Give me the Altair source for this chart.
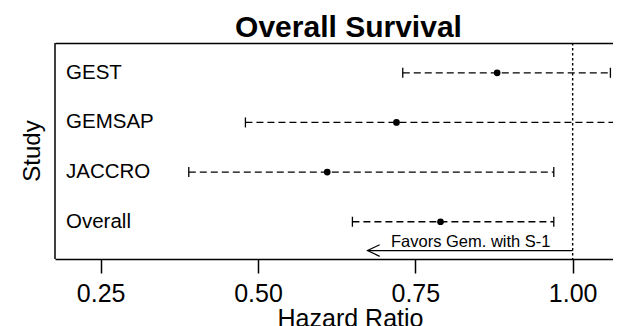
import altair as alt
import pandas as pd

# ---- data ----
studies = ["GEST", "GEMSAP", "JACCRO", "Overall"]
hr = [0.88, 0.72, 0.61, 0.79]
lower = [0.73, 0.48, 0.39, 0.65]
upper = [1.06, 1.08, 0.97, 0.97]
row = [4, 3, 2, 1]

x_ticks = [0.25, 0.50, 0.75, 1.00]
x_domain = [0.1774, 1.0641]
y_domain = [0.25, 4.6]

ref_value = [1.0]
arrow_from = [1.0]
arrow_to = [0.674]
arrow_row = [0.42]
note_text = ["Favors Gem. with S-1"]
note_x = [0.838]
note_row = [0.497]

row_label_x = 0.1949          # study names sit just inside the left frame
y_title = ["Study"]
y_title_x = [0.1536]
y_title_row = [2.425]

TITLE = "Overall Survival"
FONT = "Liberation Sans"

df = pd.DataFrame({"study": studies, "hr": hr, "lower": lower,
                   "upper": upper, "row": row,
                   "lx": [row_label_x] * len(studies)})
ref_df = pd.DataFrame({"x": ref_value})
frame_df = pd.DataFrame({"x": [x_domain[0]]})
arrow_df = pd.DataFrame({"x": arrow_from, "x2": arrow_to, "y": arrow_row})
note_df = pd.DataFrame({"x": note_x, "y": note_row, "label": note_text})
ytitle_df = pd.DataFrame({"x": y_title_x, "y": y_title_row, "label": y_title})

x_scale = alt.Scale(domain=x_domain, nice=False, zero=False)
y_scale = alt.Scale(domain=y_domain, nice=False, zero=False)

x_axis = alt.Axis(orient="bottom", values=x_ticks, format=".2f", grid=False,
                  domain=True, domainColor="black", domainWidth=1.5,
                  ticks=True, tickSize=14, tickWidth=1.5, tickColor="black",
                  labels=True, labelFontSize=25, labelFont=FONT,
                  labelColor="black", labelPadding=28,
                  labelBaseline="alphabetic", labelFlush=False,
                  titleFontSize=25, titleFont=FONT, titleFontWeight="normal",
                  titleColor="black", titleBaseline="alphabetic",
                  titleX=295, titleY=67)
# top axis: draws the upper frame line and carries the chart title
top_axis = alt.Axis(orient="top", grid=False, domain=True, domainColor="black",
                    domainWidth=1.5, ticks=False, labels=False,
                    titleFontSize=30, titleFont=FONT, titleFontWeight="bold",
                    titleColor="black", titleBaseline="alphabetic",
                    titleAlign="center", titleX=293, titleY=-6.5)


def X(field, axis=None, title=None):
    if axis is None:
        return alt.X(field, type="quantitative", scale=x_scale, axis=None)
    return alt.X(field, type="quantitative", scale=x_scale, axis=axis,
                 title=title)


def Y(field):
    return alt.Y(field, type="quantitative", scale=y_scale, axis=None)


ci = alt.Chart(df).mark_rule(strokeDash=[7, 4], strokeWidth=1.3,
                             color="black").encode(
    x=X("lower", x_axis, "Hazard Ratio"), x2="upper", y=Y("row"))

caps = alt.Chart(df).transform_fold(
    ["lower", "upper"], as_=["end", "val"]
).mark_tick(orient="vertical", size=10, thickness=1.3, color="black",
            opacity=1).encode(x=X("val"), y=Y("row"))

pts = alt.Chart(df).mark_circle(size=45, color="black", opacity=1).encode(
    x=X("hr"), y=Y("row"))

labels = alt.Chart(df).mark_text(
    align="left", baseline="middle", fontSize=20.5, font=FONT,
    color="black").encode(x=X("lx"), y=Y("row"), text="study:N")

ytitle = alt.Chart(ytitle_df).mark_text(
    align="center", baseline="alphabetic", angle=270, fontSize=24, font=FONT,
    color="black").encode(x=X("x"), y=Y("y"), text="label:N")

ref = alt.Chart(ref_df).mark_rule(strokeDash=[2.5, 2.5], strokeWidth=1.4,
                                  color="black").encode(
    x=X("x", top_axis, TITLE))

left_frame = alt.Chart(frame_df).mark_rule(strokeWidth=1.5,
                                           color="black").encode(x=X("x"))

arrow = alt.Chart(arrow_df).mark_rule(strokeWidth=1.2, color="black").encode(
    x=X("x"), x2="x2", y=Y("y"))

head = alt.Chart(arrow_df).mark_point(
    shape="M1,-0.475L0,0L1,0.475", size=595, filled=False, strokeWidth=1.2,
    color="black", opacity=1).encode(x=X("x2"), y=Y("y"))

note = alt.Chart(note_df).mark_text(
    align="center", baseline="alphabetic", fontSize=16.5, font=FONT,
    color="black").encode(x=X("x"), y=Y("y"), text="label:N")

chart = alt.layer(ci, caps, pts, labels, ytitle, ref, left_frame, arrow, head,
                  note).resolve_axis(x="independent").properties(
    width=558, height=216,
    padding={"left": 47, "top": 35, "right": 0, "bottom": 70},
    autosize="none",
).configure_view(stroke="transparent", strokeWidth=0).configure_axis(
    domain=False, grid=False, ticks=False, labels=False
)

chart.save("out.html", embed_options={"renderer": "svg", "actions": False})
